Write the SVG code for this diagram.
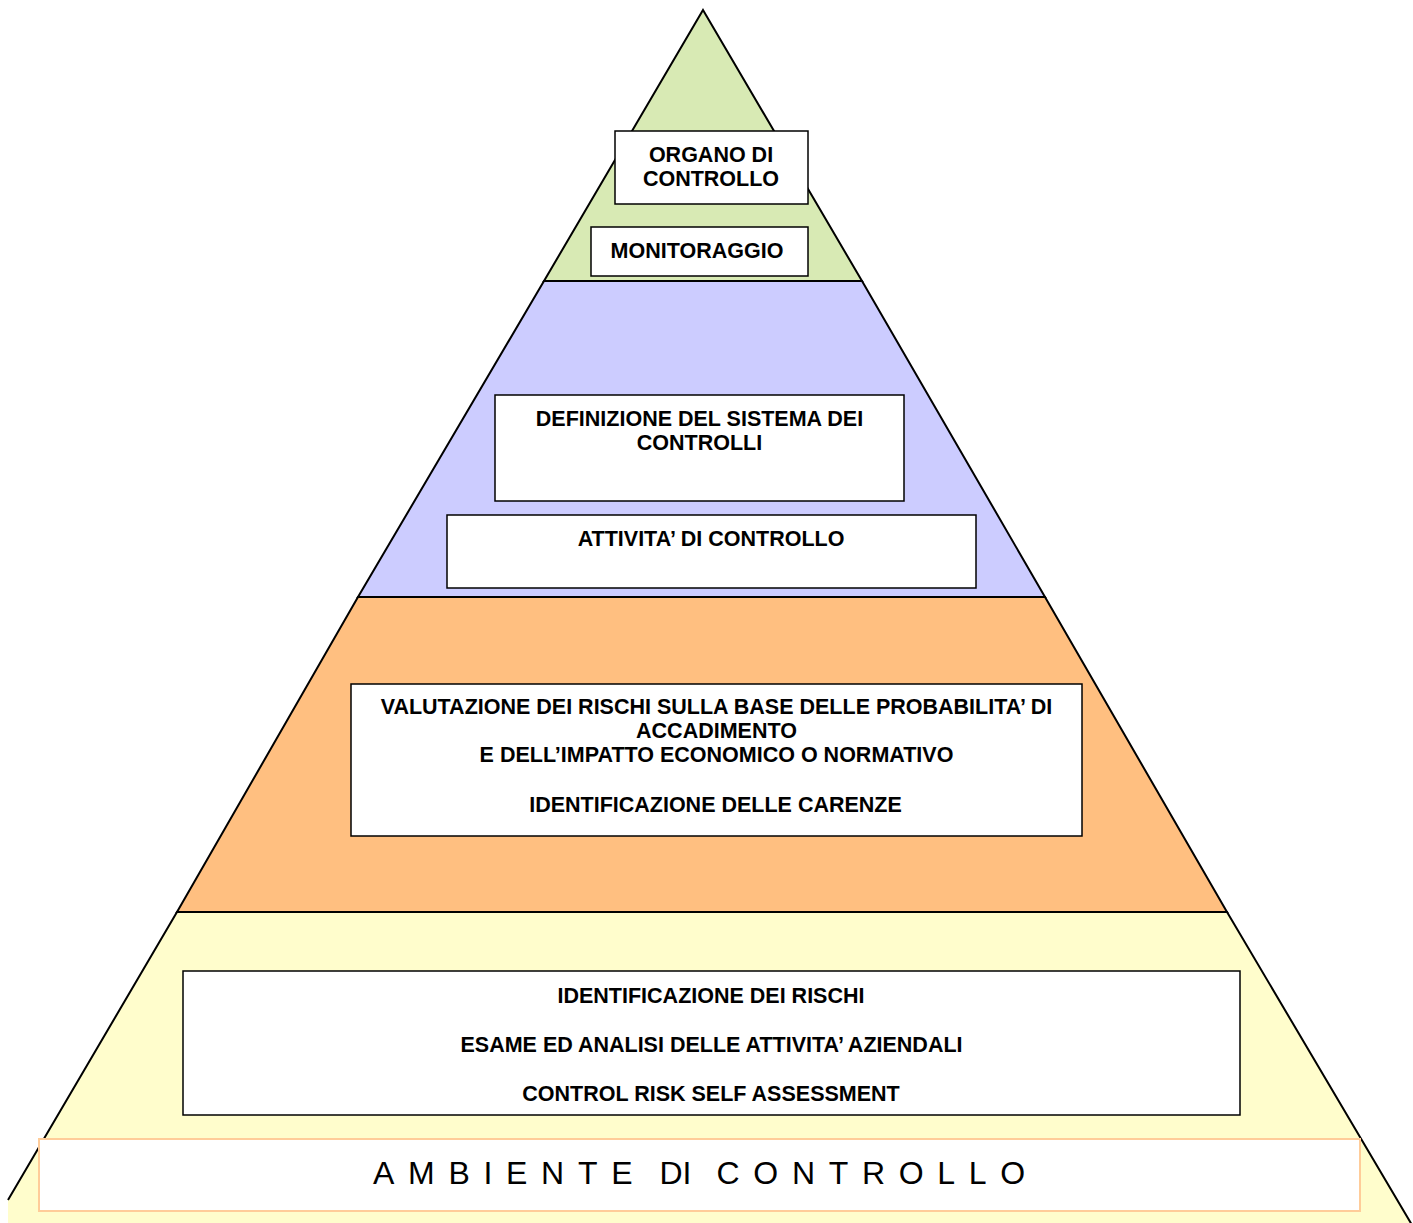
<svg xmlns="http://www.w3.org/2000/svg" width="1413" height="1223" viewBox="0 0 1413 1223">
<style>
.layer{stroke:#000;stroke-width:2;stroke-linejoin:miter}
.box{fill:#fff;stroke:#000;stroke-width:1.5}
.t{font-family:"Liberation Sans",Arial,sans-serif;font-weight:bold;font-size:21.5px;fill:#000;text-anchor:middle}
.amb{font-family:"Liberation Sans",Arial,sans-serif;font-size:32px;fill:#000;letter-spacing:13.7px}
</style>
<rect width="1413" height="1223" fill="#fff"/>
<g id="pyramid">
<polygon id="layer-green" class="layer" fill="#D8EAB4" points="703,10 862,281 544,281"/>
<polygon id="layer-blue" class="layer" fill="#CCCCFF" points="544,281 862,281 1045,597 358,597"/>
<polygon id="layer-orange" class="layer" fill="#FFBF80" points="358,597 1045,597 1227,912 177,912"/>
<polygon id="layer-yellow" fill="#FFFDCC" points="177,912 1227,912 1412,1223 8,1223 8,1200"/>
<polyline fill="none" class="layer" points="8,1200 177,912 1227,912 1412,1225"/>
</g>
<g id="connectors"></g>
<g id="organo">
<rect class="box" x="615" y="131" width="193" height="73"/>
<text class="t" x="711" y="162">ORGANO DI</text>
<text class="t" x="711" y="186">CONTROLLO</text>
</g>
<g id="monitoraggio">
<rect class="box" x="591" y="227" width="217" height="49"/>
<text class="t" x="697" y="258">MONITORAGGIO</text>
</g>
<g id="definizione">
<rect class="box" x="495" y="395" width="409" height="106"/>
<text class="t" x="699.5" y="425.5">DEFINIZIONE DEL SISTEMA DEI</text>
<text class="t" x="699.5" y="450">CONTROLLI</text>
</g>
<g id="attivita">
<rect class="box" x="447" y="515" width="529" height="73"/>
<text class="t" x="711" y="546">ATTIVITA’ DI CONTROLLO</text>
</g>
<g id="valutazione">
<rect class="box" x="351" y="684" width="731" height="152"/>
<text class="t" x="716.5" y="713.5">VALUTAZIONE DEI RISCHI SULLA BASE DELLE PROBABILITA’ DI</text>
<text class="t" x="716.5" y="737.5">ACCADIMENTO</text>
<text class="t" x="716.5" y="762">E DELL’IMPATTO ECONOMICO O NORMATIVO</text>
<text class="t" x="715.5" y="811.5">IDENTIFICAZIONE DELLE CARENZE</text>
</g>
<g id="identificazione">
<rect class="box" x="183" y="971" width="1057" height="144"/>
<text class="t" x="711" y="1002.5">IDENTIFICAZIONE DEI RISCHI</text>
<text class="t" x="711.5" y="1051.5">ESAME ED ANALISI DELLE ATTIVITA’ AZIENDALI</text>
<text class="t" x="711" y="1100.5">CONTROL RISK SELF ASSESSMENT</text>
</g>
<g id="ambiente">
<rect x="39" y="1139" width="1321" height="72" fill="#fff" stroke="#FFCC99" stroke-width="2"/>
<text class="amb" x="373" y="1184">AMBIENTE</text>
<text class="amb" x="659.5" y="1184" style="letter-spacing:0">DI</text>
<text class="amb" x="716.5" y="1184">CONTROLLO</text>
</g>
</svg>
